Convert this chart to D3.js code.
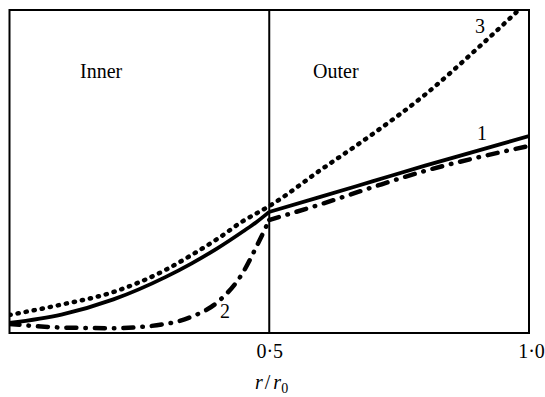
<!DOCTYPE html>
<html>
<head>
<meta charset="utf-8">
<script src="https://cdn.jsdelivr.net/npm/d3@7"></script>
<style>
  html, body { margin: 0; padding: 0; background: #fff; }
  svg { display: block; }
  text { font-family: "Liberation Serif", "Times New Roman", serif; fill: #000; }
</style>
</head>
<body>
<script>
// r/r0 positions, inner region (to 0.5) and outer region (from 0.5)
const xInner = [0, 0.1, 0.2, 0.3, 0.35, 0.4, 0.45, 0.475, 0.5];
const xOuter = [0.5, 0.6, 0.7, 0.8, 0.9, 1.0];

// curve 1 (solid)
const curve1Inner = [0.031, 0.057, 0.104, 0.173, 0.215, 0.262, 0.315, 0.343, 0.375];
const curve1Outer = [0.375, 0.422, 0.47, 0.518, 0.564, 0.61];
// curve 2 (dash-dot)
const curve2Inner = [0.028, 0.017, 0.015, 0.028, 0.05, 0.095, 0.189, 0.266, 0.35];
const curve2Outer = [0.35, 0.399, 0.452, 0.502, 0.543, 0.579];
// curve 3 (dotted)
const curve3Inner = [0.056, 0.088, 0.127, 0.195, 0.241, 0.291, 0.347, 0.37, 0.393];
const curve3Outer = [0.393, 0.506, 0.617, 0.738, 0.88, 1.03];

const tickValues = [0.5, 1.0];

var w = 545, h = 397;
var mLeft = 9.5, mRight = 529, mTop = 10, mBottom = 333;

var x = d3.scaleLinear().domain([0, 1]).range([mLeft, mRight]);
var y = d3.scaleLinear().domain([0, 1]).range([mBottom, mTop]);

var svg = d3.select("body").append("svg")
    .attr("width", w)
    .attr("height", h);

svg.append("clipPath").attr("id", "plot")
  .append("rect")
    .attr("x", mLeft).attr("y", mTop)
    .attr("width", mRight - mLeft).attr("height", mBottom - mTop);

var line = d3.line()
    .x(d => x(d[0]))
    .y(d => y(d[1]))
    .curve(d3.curveMonotoneX);

function pts(xs, ys) { return xs.map((v, i) => [v, ys[i]]); }

var g = svg.append("g").attr("clip-path", "url(#plot)");

// 3: dotted, smooth through 0.5
g.append("path")
    .attr("d", line(pts(xInner, curve3Inner).concat(pts(xOuter, curve3Outer).slice(1))))
    .attr("fill", "none")
    .attr("stroke", "#000")
    .attr("stroke-width", 4.5)
    .attr("stroke-linecap", "round")
    .attr("stroke-dasharray", "1.2,7");

// 2: dash-dot, kink at 0.5
g.append("path")
    .attr("d", line(pts(xInner, curve2Inner)) + line(pts(xOuter, curve2Outer)))
    .attr("fill", "none")
    .attr("stroke", "#000")
    .attr("stroke-width", 4.5)
    .attr("stroke-linecap", "round")
    .attr("stroke-dasharray", "10,9,0.5,9");

// 1: solid
g.append("path")
    .attr("d", line(pts(xInner, curve1Inner)) + line(pts(xOuter, curve1Outer)))
    .attr("fill", "none")
    .attr("stroke", "#000")
    .attr("stroke-width", 3.8)
    .attr("stroke-linejoin", "round");

// frame + divider
svg.append("rect")
    .attr("x", mLeft).attr("y", mTop)
    .attr("width", mRight - mLeft).attr("height", mBottom - mTop)
    .attr("fill", "none")
    .attr("stroke", "#000")
    .attr("stroke-width", 2);

svg.append("line")
    .attr("x1", x(0.5)).attr("x2", x(0.5))
    .attr("y1", mTop).attr("y2", mBottom)
    .attr("stroke", "#000")
    .attr("stroke-width", 2);

// x axis labels
var axis = svg.append("g")
    .attr("transform", "translate(0," + mBottom + ")")
    .call(d3.axisBottom(x)
      .tickValues(tickValues)
      .tickSize(0)
      .tickPadding(11)
      .tickFormat(d => d3.format(".1f")(d).replace(".", "\u00b7")));
axis.select(".domain").remove();
axis.selectAll("text")
    .attr("font-family", "Liberation Serif, Times New Roman, serif")
    .attr("font-size", 20)
    .attr("fill", "#000")
    .attr("dx", d => d === 1 ? 2 : 0);

var xt = svg.append("text")
    .attr("x", 255).attr("y", 389)
    .attr("font-size", 20);
xt.append("tspan").attr("font-style", "italic").text("r");
xt.append("tspan").attr("dx", 2).text("/");
xt.append("tspan").attr("dx", 3).attr("font-style", "italic").text("r");
xt.append("tspan").attr("font-size", 14).attr("dy", 4).text("0");

// region + curve labels
svg.append("text").attr("x", 80).attr("y", 78).attr("font-size", 20).text("Inner");
svg.append("text").attr("x", 313).attr("y", 78).attr("font-size", 20).text("Outer");
svg.append("text").attr("x", 475).attr("y", 33).attr("font-size", 20).text("3");
svg.append("text").attr("x", 477).attr("y", 140).attr("font-size", 20).text("1");
svg.append("text").attr("x", 220).attr("y", 318).attr("font-size", 20).text("2");
</script>
</body>
</html>
